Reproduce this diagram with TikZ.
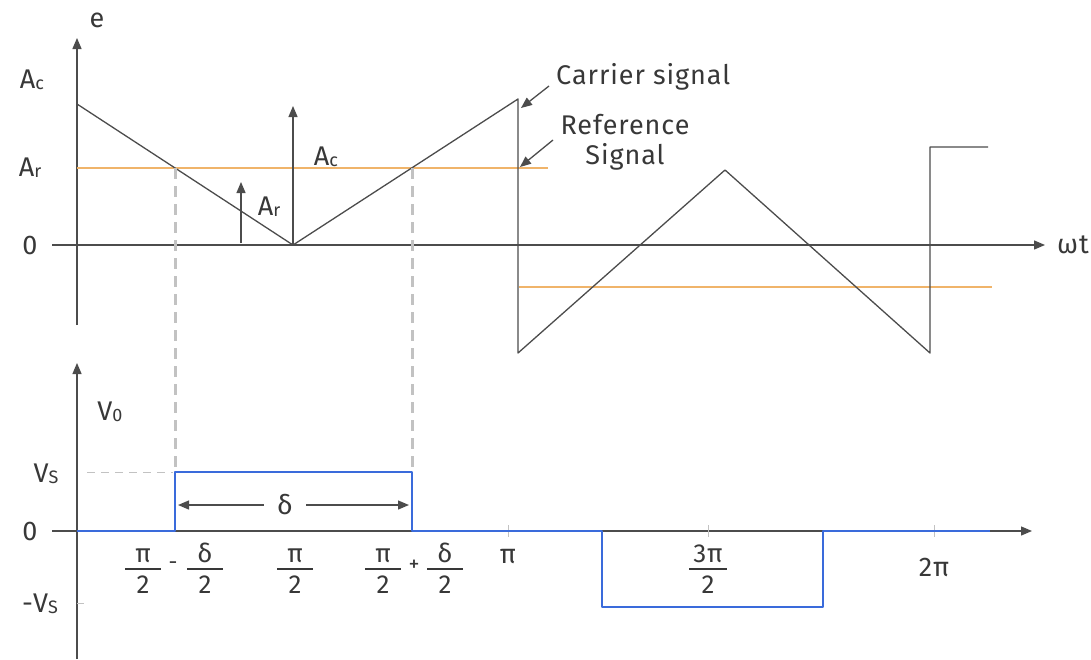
\documentclass[tikz,border=0pt]{standalone}
\usepackage{fontspec}
\setmainfont{Fira Sans}[LetterSpace=3.5]
\usetikzlibrary{arrows.meta}
\definecolor{axis}{HTML}{4C4C4C}
\definecolor{txt}{HTML}{383838}
\definecolor{refor}{HTML}{F0B46A}
\definecolor{pulse}{HTML}{3A6BDB}
\definecolor{guidec}{HTML}{C2C2C2}
\setlength\arrayrulewidth{1.2pt}
\newcommand\sbs[1]{\raisebox{-1pt}{\fontsize{18}{18}\selectfont #1}}
\newcommand\fr[3]{\begin{tabular}{@{\hspace{#3}}c@{\hspace{#3}}}#1\\[-4pt]\hline #2\end{tabular}}
\begin{document}
\begin{tikzpicture}[x=1pt,y=-1pt,line join=round,
  font=\fontsize{27}{30}\selectfont, text=txt,
  ax/.style={draw=axis, line width=1.3pt},
  axarrow/.style={ax, -{Triangle[length=11pt,width=9pt]}},
  wave/.style={draw=axis, line width=1.3pt},
  refl/.style={draw=refor, line width=1.2pt},
  guideline/.style={draw=guidec, line width=3pt, dash pattern=on 11pt off 7pt},
  thindash/.style={draw=guidec, line width=1pt, dash pattern=on 8pt off 6pt},
  outp/.style={draw=pulse, line width=2.5pt},
  tickm/.style={draw=guidec, line width=0.8pt},
  lbl/.style={inner sep=1pt},
  fracl/.style={inner sep=0pt, font=\fontsize{26}{34}\selectfont},
  sign/.style={inner sep=0pt, font=\fontsize{22}{22}\selectfont}]
\useasboundingbox (0,0) rectangle (1091,659);
% ---------- upper plot ----------
\coordinate (eBot) at (77,325);
\coordinate (eTop) at (77,38);
\coordinate (wL) at (52,245);
\coordinate (wR) at (1045,245);
\draw[axarrow] (eBot) -- (eTop);
\draw[axarrow] (wL) -- (wR);
\node[lbl] (e) at (97,20) {e};
\node[lbl] (wt) at (1073,245) {ωt};
\node[lbl] (lAc) at (32,80) {A\sbs{c}};
\node[lbl] (lAr) at (30,168) {A\sbs{r}};
\node[lbl] (l0) at (30,245) {0};
% reference signals
\draw[refl] (77,168) -- (548,168);
\draw[refl] (519,287) -- (992,287);
% carrier
\draw[wave] (77,104) -- (293,245) -- (518,99) -- (518,353) -- (725,170) -- (930,353) -- (930,147) -- (988,147);
% guides
\draw[guideline] (175,168) -- (175,472);
\draw[guideline] (412,168) -- (412,472);
% amplitude arrows
\coordinate (arB) at (241,243);
\coordinate (arT) at (241,182);
\coordinate (acB) at (293,245);
\coordinate (acT) at (293,106);
\draw[axarrow] (arB) -- (arT);
\draw[axarrow] (acB) -- (acT);
\node[lbl] (mAr) at (269,207) {A\sbs{r}};
\node[lbl] (mAc) at (326,157) {A\sbs{c}};
% annotations
\node[lbl,anchor=west] (cs) at (555,77) {Carrier signal};
\node[lbl,align=center] (rs) at (625,142) {Reference\\Signal};
\coordinate (csTail) at (549,86);
\coordinate (csTip) at (521,108);
\coordinate (rsTail) at (553,140);
\coordinate (rsTip) at (520,167);
\draw[axarrow] (csTail) -- (csTip);
\draw[axarrow] (rsTail) -- (rsTip);
% ---------- lower plot ----------
\coordinate (vBot) at (77,659);
\coordinate (vTop) at (77,363);
\coordinate (hL) at (52,531);
\coordinate (hR) at (1032,531);
\draw[axarrow] (vBot) -- (vTop);
\draw[axarrow] (hL) -- (hR);
\node[lbl] (V0) at (110,412) {V\sbs{0}};
\node[lbl] (Vs) at (46,474) {V\sbs{S}};
\node[lbl] (mVs) at (40,604) {-V\sbs{S}};
\node[lbl] (b0) at (30,531) {0};
\draw[thindash] (87,472) -- (173,472);
\draw[tickm] (77,603) -- (84,603);
\draw[tickm] (508,525) -- (508,537);
\draw[tickm] (708,525) -- (708,537);
\draw[tickm] (934,525) -- (934,537);
\draw[outp] (77,531) -- (175,531) -- (175,472) -- (412,472) -- (412,531) -- (602,531) -- (602,607) -- (823,607) -- (823,531) -- (990,531);
% delta
\node[lbl] (dl) at (285,505) {δ};
\coordinate (dlL) at (178,505);
\coordinate (dlR) at (409,505);
\draw[axarrow, shorten <=12pt] (dl.west) -- (dlL);
\draw[axarrow, shorten <=12pt] (dl.east) -- (dlR);
% tick labels
\node[fracl] (f1) at (143,571) {\fr{π}{2}{10pt}};
\node[sign] (minus) at (173,566) {-};
\node[fracl] (f2) at (205,571) {\fr{δ}{2}{10pt}};
\node[fracl] (f3) at (295,571) {\fr{π}{2}{10pt}};
\node[fracl] (f4) at (383,571) {\fr{π}{2}{10pt}};
\node[sign] (plus) at (414,566) {+};
\node[fracl] (f5) at (445,571) {\fr{δ}{2}{10pt}};
\node[lbl] (pi) at (508,557) {π};
\node[fracl] (f6) at (708,571) {\fr{3π}{2}{4pt}};
\node[lbl] (tpi) at (934,567) {2π};
\end{tikzpicture}
\end{document}
